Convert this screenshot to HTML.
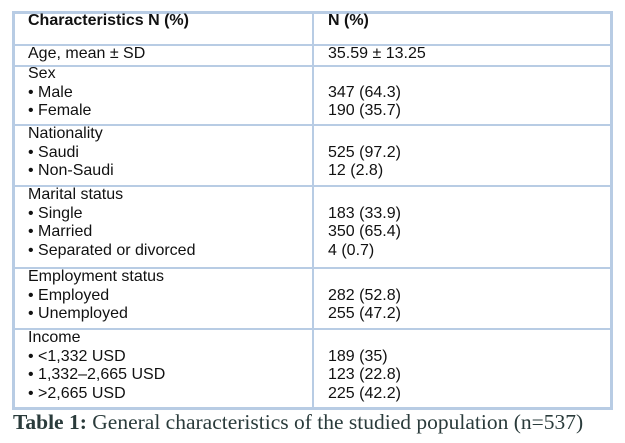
<!DOCTYPE html>
<html><head><meta charset="utf-8"><style>
body{margin:0;width:625px;height:443px;background:#fff;position:relative;overflow:hidden;font-family:"Liberation Sans",Arial,sans-serif;}
.l{position:absolute;background:#b8cce4;}
.t{position:absolute;font-size:16px;line-height:18.5px;color:#111;white-space:nowrap;}
.cap{position:absolute;left:13px;top:409px;font-family:"Liberation Serif",serif;font-size:21.5px;line-height:26px;color:#2a3b3b;white-space:nowrap;}
</style></head><body>
<div>
<div class="l" style="left:12px;top:11px;width:601px;height:3px"></div>
<div class="l" style="left:12px;top:407px;width:601px;height:3px"></div>
<div class="l" style="left:12px;top:11px;width:3px;height:399px"></div>
<div class="l" style="left:610px;top:11px;width:3px;height:399px"></div>
<div class="l" style="left:312px;top:11px;width:2px;height:399px"></div>
<div class="l" style="left:12px;top:44px;width:601px;height:2px"></div>
<div class="l" style="left:12px;top:65px;width:601px;height:2px"></div>
<div class="l" style="left:12px;top:124px;width:601px;height:2px"></div>
<div class="l" style="left:12px;top:185px;width:601px;height:2px"></div>
<div class="l" style="left:12px;top:267px;width:601px;height:2px"></div>
<div class="l" style="left:12px;top:328px;width:601px;height:2px"></div>

<div class="t" style="left:28px;top:12px;font-weight:bold">Characteristics N (%)</div>
<div class="t" style="left:328px;top:12px;font-weight:bold">N (%)</div>

<div class="t" style="left:28px;top:45px">Age, mean ± SD</div>
<div class="t" style="left:328px;top:45px">35.59 ± 13.25</div>

<div class="t" style="left:28px;top:65px">Sex<br>• Male<br>• Female</div>
<div class="t" style="left:328px;top:83.5px">347 (64.3)<br>190 (35.7)</div>

<div class="t" style="left:28px;top:125px">Nationality<br>• Saudi<br>• Non-Saudi</div>
<div class="t" style="left:328px;top:143.5px">525 (97.2)<br>12 (2.8)</div>

<div class="t" style="left:28px;top:186px">Marital status<br>• Single<br>• Married<br>• Separated or divorced</div>
<div class="t" style="left:328px;top:204.5px">183 (33.9)<br>350 (65.4)<br>4 (0.7)</div>

<div class="t" style="left:28px;top:268px">Employment status<br>• Employed<br>• Unemployed</div>
<div class="t" style="left:328px;top:286.5px">282 (52.8)<br>255 (47.2)</div>

<div class="t" style="left:28px;top:329px">Income<br>• &lt;1,332 USD<br>• 1,332–2,665 USD<br>• &gt;2,665 USD</div>
<div class="t" style="left:328px;top:347.5px">189 (35)<br>123 (22.8)<br>225 (42.2)</div>
</div>
<div class="cap"><b>Table 1:</b> General characteristics of the studied population (n=537)</div>
</body></html>
